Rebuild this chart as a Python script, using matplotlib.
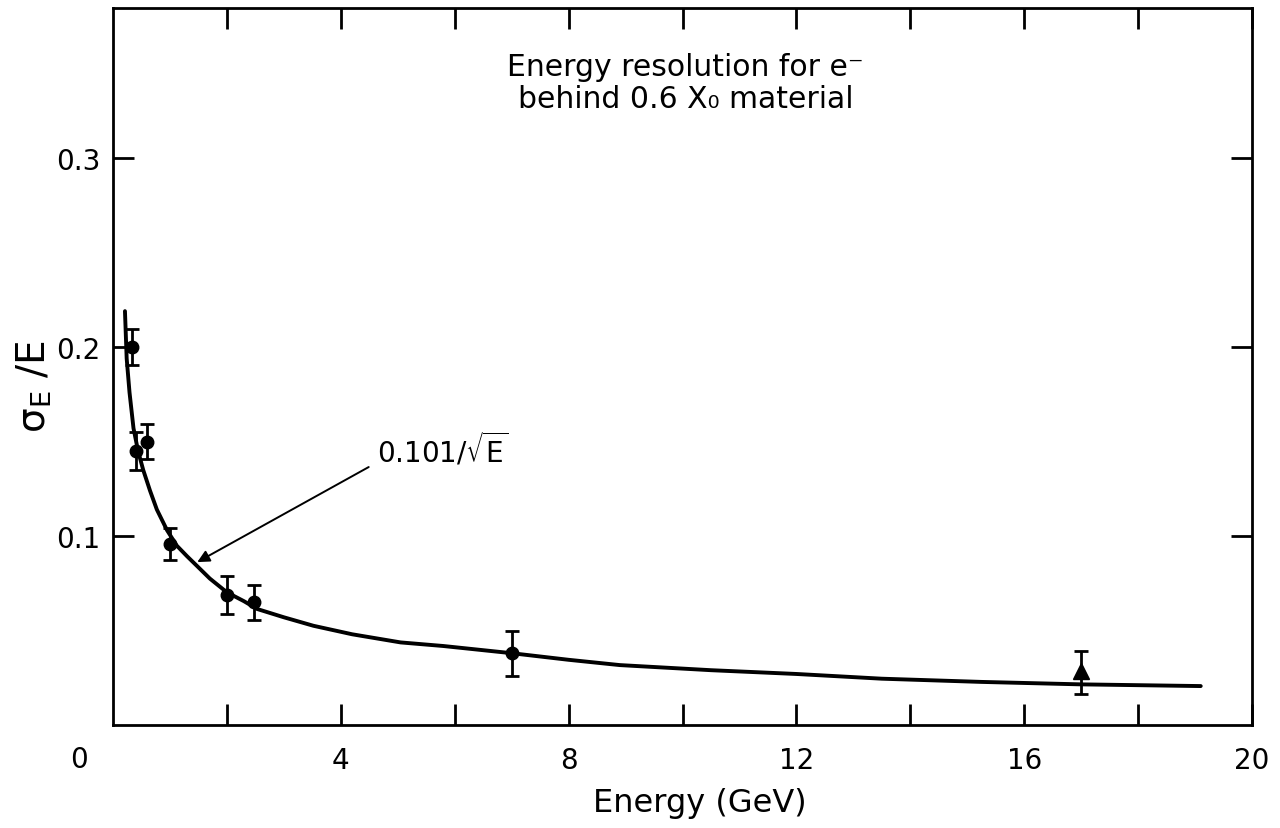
import numpy as np
import matplotlib.pyplot as plt

# measured points (E in GeV, sigma_E/E)
energy = [0.33, 0.40, 0.59, 1.0, 2.0, 2.47, 7.0]
resol = [0.200, 0.145, 0.150, 0.096, 0.069, 0.065, 0.038]
resol_err = [0.0095, 0.010, 0.0095, 0.0085, 0.010, 0.0093, 0.012]

# triangle point
tri_energy = [17.0]
tri_resol = [0.0286]
tri_err_lo = [0.0122]
tri_err_hi = [0.0104]

# fitted curve
curve_E = [0.21, 0.24, 0.29, 0.36, 0.44, 0.53, 0.65, 0.77, 0.95, 1.12, 1.3, 1.47,
           1.7, 2.0, 2.3, 2.53, 3.0, 3.52, 4.2, 5.05, 5.8, 7.0, 8.0, 8.9, 10.5,
           12.0, 13.5, 15.25, 17.0, 19.1]
curve_y = [0.219, 0.194, 0.176, 0.157, 0.145, 0.135, 0.124, 0.114, 0.103, 0.0949,
           0.0893, 0.0843, 0.0775, 0.0702, 0.0655, 0.0614, 0.057, 0.0525, 0.048,
           0.0437, 0.0418, 0.038, 0.0345, 0.0317, 0.029, 0.027, 0.0245, 0.0228,
           0.0215, 0.0206]

xticks = [4, 8, 12, 16, 20]
yticks = [0.1, 0.2, 0.3]

plt.rcParams['font.family'] = 'DejaVu Sans'

fig = plt.figure(figsize=(12.8, 8.29), dpi=100)
ax = fig.add_axes([113 / 1280, 1 - 726 / 829, (1252 - 113) / 1280, (726 - 9) / 829])

ax.plot(curve_E, curve_y, color='black', lw=2.8, solid_capstyle='round')
ax.errorbar(energy, resol, yerr=resol_err, fmt='o', color='black', ms=9,
            elinewidth=2, capsize=5, capthick=2)
ax.errorbar(tri_energy, tri_resol, yerr=[tri_err_lo, tri_err_hi], fmt='^',
            color='black', ms=11, elinewidth=2, capsize=5, capthick=2)

ax.set_xlim(0, 20)
ax.set_ylim(0, 0.3794)

for s in ax.spines.values():
    s.set_linewidth(2)

ax.set_xticks(xticks)
ax.set_xticks([2, 6, 10, 14, 18], minor=True)
ax.set_yticks(yticks)
ax.set_yticklabels(['0.1', '0.2', '0.3'])
ax.tick_params(axis='both', which='both', direction='in', length=15, width=2,
               top=True, right=True, labelsize=20)
ax.tick_params(axis='x', which='major', pad=15)
ax.tick_params(axis='y', which='major', pad=9)
ax.text(-0.030, -0.048, '0', transform=ax.transAxes, fontsize=20,
        ha='center', va='center')

ax.set_xlabel('Energy (GeV)', fontsize=23)
ax.xaxis.set_label_coords(0.515, -0.087)
ax.set_ylabel(r'$\mathregular{\sigma_E\ /E}$', fontsize=28)
ax.yaxis.set_label_coords(-0.052, 0.473)

ax.text(10.05, 0.340, 'Energy resolution for e\u207b\nbehind 0.6 X\u2080 material',
        fontsize=21.5, ha='center', va='center', linespacing=1.15)

ax.annotate('', xy=(1.48, 0.0862), xytext=(4.49, 0.1365),
            arrowprops=dict(arrowstyle='-|>', lw=1.4, color='black',
                            mutation_scale=18, shrinkA=0, shrinkB=0))
ax.text(4.64, 0.146, r'$\mathregular{0.101/\sqrt{E}}$', fontsize=20,
        ha='left', va='center')

fig.savefig('out.png', dpi=100)
